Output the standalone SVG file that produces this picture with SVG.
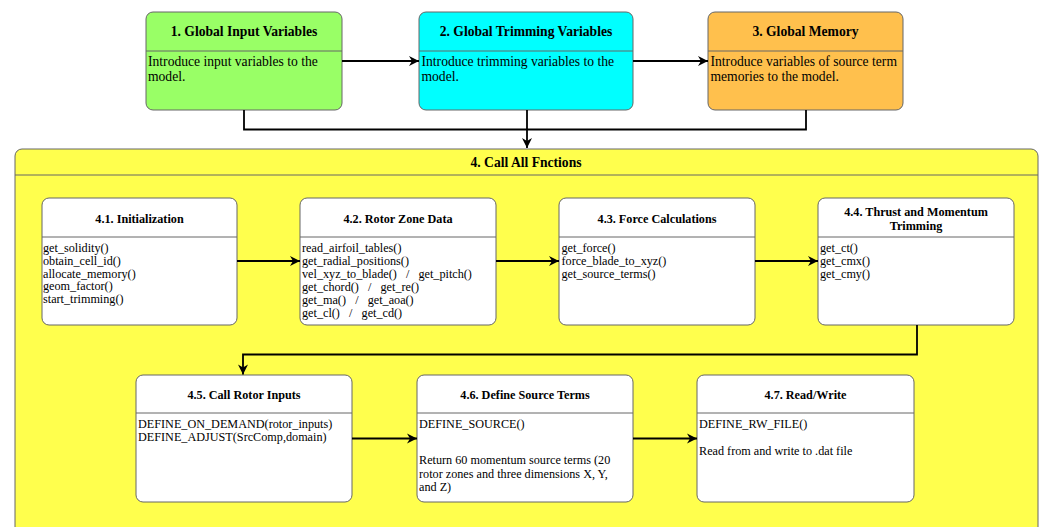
<svg xmlns="http://www.w3.org/2000/svg" width="1041" height="527" viewBox="0 0 1041 527">
<defs>
<style>
.box{stroke:#666666;stroke-width:1}
.div{stroke:#666666;stroke-width:1;fill:none}
.t{font-family:"Liberation Serif","Times New Roman",serif;font-weight:bold;font-size:13.6px;fill:#000;text-anchor:middle}
.ti{font-family:"Liberation Serif","Times New Roman",serif;font-weight:bold;font-size:12.2px;fill:#000;text-anchor:middle}
.b{font-family:"Liberation Serif","Times New Roman",serif;font-size:13.6px;fill:#000}
.bi{font-family:"Liberation Serif","Times New Roman",serif;font-size:12.2px;fill:#000;white-space:pre}
.c{fill:none;stroke:#000;stroke-width:1.8;marker-end:url(#arr)}
.cn{fill:none;stroke:#000;stroke-width:1.8}
</style>
<marker id="arr" markerUnits="userSpaceOnUse" markerWidth="12" markerHeight="12" viewBox="0 0 12 12" refX="11" refY="6" orient="auto">
<path d="M1,1 L11,6 L1,11 L4,6 z" fill="#000"/>
</marker>
</defs>
<rect width="1041" height="527" fill="#ffffff"/>

<g id="node4">
<rect class="box" x="15" y="149" width="1023" height="420" rx="7" fill="#FFFF4D"/>
<line class="div" x1="15" y1="175" x2="1038" y2="175"/>
<text class="t" x="526" y="167">4. Call All Fnctions</text>
</g>

<g id="node1">
<rect class="box" x="146" y="12" width="196" height="98" rx="7" fill="#99FF66"/>
<line class="div" x1="146" y1="51" x2="342" y2="51"/>
<text class="t" x="244" y="36">1. Global Input Variables</text>
<text class="b" x="148" y="66">Introduce input variables to the</text>
<text class="b" x="148" y="81">model.</text>
</g>

<g id="node2">
<rect class="box" x="419" y="12" width="214" height="98" rx="7" fill="#00FFFF"/>
<line class="div" x1="419" y1="51" x2="633" y2="51"/>
<text class="t" x="526" y="36">2. Global Trimming Variables</text>
<text class="b" x="421.5" y="66">Introduce trimming variables to the</text>
<text class="b" x="421.5" y="81">model.</text>
</g>

<g id="node3">
<rect class="box" x="708" y="12" width="195" height="98" rx="7" fill="#FFC04D"/>
<line class="div" x1="708" y1="51" x2="903" y2="51"/>
<text class="t" x="805.5" y="36">3. Global Memory</text>
<text class="b" x="710.5" y="66">Introduce variables of source term</text>
<text class="b" x="710.5" y="81">memories to the model.</text>
</g>

<g id="node4_1">
<rect class="box" x="42" y="198" width="195" height="127" rx="7" fill="#ffffff"/>
<line class="div" x1="42" y1="237" x2="237" y2="237"/>
<text class="ti" x="139.5" y="222.5">4.1. Initialization</text>
<text class="bi" x="43" y="252">get_solidity()</text>
<text class="bi" x="43" y="264.8">obtain_cell_id()</text>
<text class="bi" x="43" y="277.6">allocate_memory()</text>
<text class="bi" x="43" y="290.4">geom_factor()</text>
<text class="bi" x="43" y="303.2">start_trimming()</text>
</g>

<g id="node4_2">
<rect class="box" x="300" y="198" width="196" height="127" rx="7" fill="#ffffff"/>
<line class="div" x1="300" y1="237" x2="496" y2="237"/>
<text class="ti" x="398" y="222.5">4.2. Rotor Zone Data</text>
<text class="bi" x="302" y="252" xml:space="preserve">read_airfoil_tables()</text>
<text class="bi" x="302" y="264.9" xml:space="preserve">get_radial_positions()</text>
<text class="bi" x="302" y="277.8" xml:space="preserve">vel_xyz_to_blade()   /   get_pitch()</text>
<text class="bi" x="302" y="290.7" xml:space="preserve">get_chord()   /   get_re()</text>
<text class="bi" x="302" y="303.6" xml:space="preserve">get_ma()   /   get_aoa()</text>
<text class="bi" x="302" y="316.5" xml:space="preserve">get_cl()   /   get_cd()</text>
</g>

<g id="node4_3">
<rect class="box" x="559" y="198" width="196" height="127" rx="7" fill="#ffffff"/>
<line class="div" x1="559" y1="237" x2="755" y2="237"/>
<text class="ti" x="657" y="222.5">4.3. Force Calculations</text>
<text class="bi" x="561.5" y="252">get_force()</text>
<text class="bi" x="561.5" y="265">force_blade_to_xyz()</text>
<text class="bi" x="561.5" y="278">get_source_terms()</text>
</g>

<g id="node4_4">
<rect class="box" x="818" y="198" width="196" height="127" rx="7" fill="#ffffff"/>
<line class="div" x1="818" y1="237" x2="1014" y2="237"/>
<text class="ti" x="916" y="216">4.4. Thrust and Momentum</text>
<text class="ti" x="916" y="229.5">Trimming</text>
<text class="bi" x="820" y="252">get_ct()</text>
<text class="bi" x="820" y="265">get_cmx()</text>
<text class="bi" x="820" y="278">get_cmy()</text>
</g>

<g id="node4_5">
<rect class="box" x="136" y="375" width="216" height="127" rx="7" fill="#ffffff"/>
<line class="div" x1="136" y1="413" x2="352" y2="413"/>
<text class="ti" x="244" y="399">4.5. Call Rotor Inputs</text>
<text class="bi" x="138" y="427.5">DEFINE_ON_DEMAND(rotor_inputs)</text>
<text class="bi" x="138" y="441">DEFINE_ADJUST(SrcComp,domain)</text>
</g>

<g id="node4_6">
<rect class="box" x="417" y="375" width="216" height="127" rx="7" fill="#ffffff"/>
<line class="div" x1="417" y1="413" x2="633" y2="413"/>
<text class="ti" x="525" y="399">4.6. Define Source Terms</text>
<text class="bi" x="419" y="427.5">DEFINE_SOURCE()</text>
<text class="bi" x="419" y="464">Return 60 momentum source terms (20</text>
<text class="bi" x="419" y="477.5">rotor zones and three dimensions X, Y,</text>
<text class="bi" x="419" y="491">and Z)</text>
</g>

<g id="node4_7">
<rect class="box" x="697" y="375" width="217" height="127" rx="7" fill="#ffffff"/>
<line class="div" x1="697" y1="413" x2="914" y2="413"/>
<text class="ti" x="805.5" y="399">4.7. Read/Write</text>
<text class="bi" x="699" y="427.5">DEFINE_RW_FILE()</text>
<text class="bi" x="699" y="455">Read from and write to .dat file</text>
</g>

<g id="connectors">
<path class="c" d="M342,61 H419"/>
<path class="c" d="M633,61 H708"/>
<path class="cn" d="M244,110 V129.5 H806 V110"/>
<path class="c" d="M527,110 V148"/>
<path class="c" d="M237,261 H300"/>
<path class="c" d="M496,261 H559"/>
<path class="c" d="M755,261 H818"/>
<path class="c" d="M917,325 V354.5 H243 V374.5"/>
<path class="c" d="M352,438.5 H417"/>
<path class="c" d="M633,438.5 H697"/>
</g>
</svg>
